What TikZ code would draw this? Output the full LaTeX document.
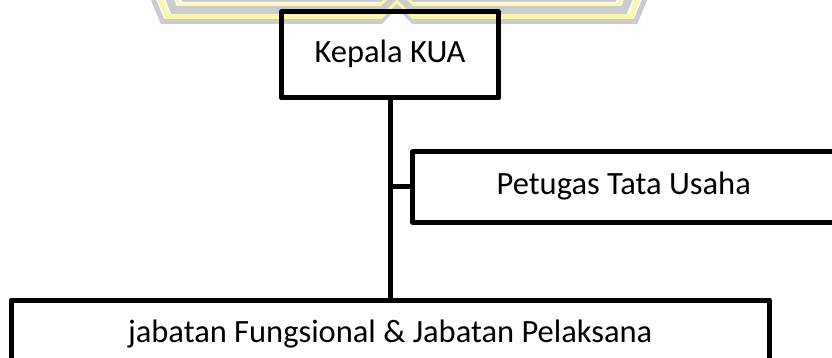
\documentclass[tikz,border=0pt]{standalone}
\usepackage{fontspec}
\setmainfont{Carlito}
\definecolor{wmgray}{RGB}{204,204,204}
\definecolor{wmyellow}{RGB}{250,247,176}
\tikzset{
  orgbox/.style={draw=black, line width=5pt, line join=round, inner sep=0pt,
    text height=22pt, text depth=6pt, font=\fontsize{32.5}{38}\selectfont},
  link/.style={draw=black, line width=5pt},
}
\begin{document}
\begin{tikzpicture}[x=1pt,y=-1pt]
\useasboundingbox (0,0) rectangle (832,358);
\clip (0,0) rectangle (832,358);
% faint watermark at the top
\foreach \yc/\w/\c in {21.5/5/wmgray, 16.5/5/wmyellow, 10/8/wmgray, 4.5/3/wmyellow, 1/2/wmgray}{
  \draw[\c, line width=\w pt, line join=miter]
    ({160+(24-\yc)-10*(\yc+4)/24}, -4) -- ({160+(24-\yc)}, \yc)
    -- ({397-16.5}, \yc) -- (397, {\yc-16.5}) -- ({397+16.5}, \yc)
    -- ({638-(24-\yc)}, \yc) -- ({638-(24-\yc)+10*(\yc+4)/24}, -4);
}
% boxes
\node[orgbox, minimum width=217.5pt, minimum height=86pt] (kua) at (390,55) {Kepala KUA};
\node[orgbox, minimum width=422.5pt, minimum height=70pt] (tu) at (623.75,187) {Petugas Tata Usaha};
\node[orgbox, minimum width=758.5pt, minimum height=68pt] (fung) at (390.25,334) {jabatan Fungsional \& Jabatan Pelaksana};
% connectors
\draw[link] (kua.south) -- (kua.south |- fung.north);
\draw[link] (kua.south |- tu.west) -- (tu.west);
\end{tikzpicture}
\end{document}
